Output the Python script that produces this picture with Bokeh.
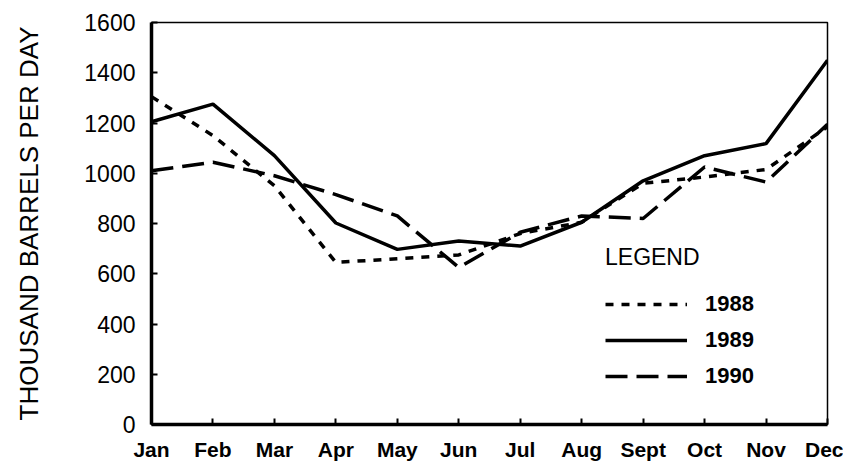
from bokeh.plotting import figure
from bokeh.models import Range1d, FixedTicker, Legend, LegendItem
from bokeh.embed import file_html
from bokeh.resources import INLINE

months = ["Jan", "Feb", "Mar", "Apr", "May", "Jun", "Jul", "Aug", "Sept", "Oct", "Nov", "Dec"]
y1988 = [1305, 1150, 950, 645, 660, 675, 760, 805, 960, 985, 1015, 1185]
y1989 = [1205, 1275, 1070, 802, 697, 730, 710, 805, 970, 1070, 1118, 1450]
y1990 = [1010, 1044, 990, 915, 830, 625, 765, 830, 820, 1025, 965, 1195]
y_ticks = [0, 200, 400, 600, 800, 1000, 1200, 1400, 1600]
series_names = ["1988", "1989", "1990"]

x = list(range(len(months)))
FONT = "Liberation Sans"

p = figure(width=843, height=463, output_backend="svg", toolbar_location=None,
           x_range=Range1d(0, len(months) - 1), y_range=Range1d(0, 1600),
           min_border_left=151, min_border_right=16, min_border_top=22, min_border_bottom=34)
p.background_fill_color = "white"
p.border_fill_color = "white"
p.outline_line_color = "black"
p.outline_line_width = 1.5
p.xgrid.visible = False
p.ygrid.visible = False

# axes
p.xaxis.ticker = FixedTicker(ticks=x)
p.xaxis.major_label_overrides = {i: m for i, m in enumerate(months)}
p.yaxis.ticker = FixedTicker(ticks=y_ticks)
p.yaxis.axis_label = "THOUSAND BARRELS PER DAY"
for ax in (p.xaxis[0], p.yaxis[0]):
    ax.axis_line_width = 3.5
    ax.axis_line_color = "black"
    ax.major_tick_in = 6
    ax.major_tick_out = 0
    ax.major_tick_line_width = 2
    ax.minor_tick_line_color = None
    ax.major_label_text_color = "black"
    ax.major_label_text_font = FONT
p.xaxis.major_label_text_font_size = "21px"
p.xaxis.major_label_text_font_style = "bold"
p.xaxis.major_label_standoff = 13
p.yaxis.major_label_text_font_size = "23px"
p.yaxis.major_label_standoff = 16
p.yaxis.axis_label_text_font = FONT
p.yaxis.axis_label_text_font_size = "26px"
p.yaxis.axis_label_text_font_style = "normal"
p.yaxis.axis_label_text_color = "black"
p.yaxis.axis_label_standoff = 37

r88 = p.line(x, y1988, line_color="black", line_width=3.5, line_dash="8 8")
r89 = p.line(x, y1989, line_color="black", line_width=3.5)
r90 = p.line(x, y1990, line_color="black", line_width=3.5, line_dash="22 9")

legend = Legend(items=[LegendItem(label=series_names[0], renderers=[r88]),
                       LegendItem(label=series_names[1], renderers=[r89]),
                       LegendItem(label=series_names[2], renderers=[r90])],
                location=(454, 35), title="LEGEND")
legend.title_text_font = FONT
legend.title_text_font_size = "23px"
legend.title_text_font_style = "normal"
legend.title_text_color = "black"
legend.title_standoff = 20
legend.label_text_font = FONT
legend.label_text_font_size = "22px"
legend.label_text_font_style = "bold"
legend.label_text_color = "black"
legend.glyph_width = 82
legend.glyph_height = 24
legend.label_height = 24
legend.label_standoff = 18
legend.spacing = 10
legend.padding = 0
legend.margin = 0
legend.border_line_color = None
legend.background_fill_alpha = 0
p.add_layout(legend, "center")

open("out.html", "w").write(file_html(p, INLINE))
